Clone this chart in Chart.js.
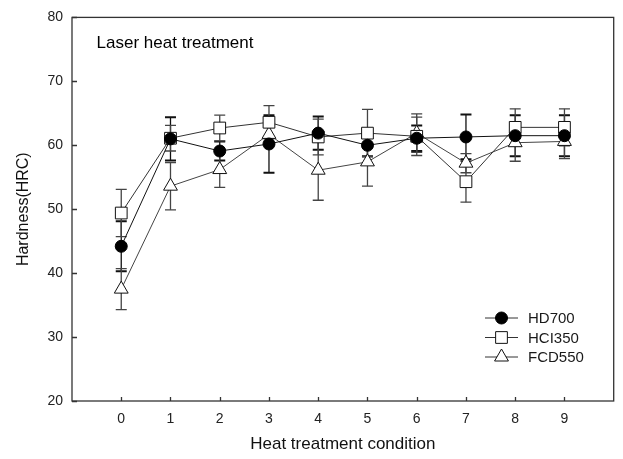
<!DOCTYPE html>
<html>
<head>
<meta charset="utf-8">
<script src="https://cdn.jsdelivr.net/npm/chart.js@4/dist/chart.umd.min.js"></script>
<style>
html,body{margin:0;padding:0;background:#fff;}
#wrap{width:623px;height:459px;position:relative;}
</style>
</head>
<body>
<div id="wrap"><canvas id="c" width="623" height="459"></canvas></div>
<script>
// ---- data ----
const conditions = [0, 1, 2, 3, 4, 5, 6, 7, 8, 9];
const yTicks = [20, 30, 40, 50, 60, 70, 80];
const seriesNames = ['HD700', 'HCI350', 'FCD550'];
const hd700 = [44.2, 61.0, 59.1, 60.2, 61.9, 60.0, 61.1, 61.3, 61.5, 61.5];
const hd700Err = [3.9, 3.4, 1.5, 4.5, 2.6, 1.7, 2.0, 3.5, 3.2, 3.2];
const hci350 = [49.4, 61.1, 62.7, 63.6, 61.3, 61.9, 61.4, 54.3, 62.8, 62.8];
const hci350Err = [3.7, 2.0, 2.0, 2.6, 2.8, 3.7, 3.0, 3.2, 2.9, 2.9];
const fcd550 = [37.5, 53.6, 56.2, 61.7, 56.1, 57.4, 61.9, 57.2, 60.4, 60.6];
const fcd550Err = [3.2, 3.7, 2.8, 1.5, 4.7, 3.8, 3.0, 1.5, 2.9, 2.7];

const FONT = "'Liberation Sans', Arial, sans-serif";
const toPts = (ys) => conditions.map((x, i) => ({x: x, y: ys[i]}));

const errs = [hd700Err, hci350Err, fcd550Err];

const errorBarPlugin = {
  id: 'errorBars',
  beforeDatasetsDraw(chart) {
    const {ctx, scales: {x, y}} = chart;
    ctx.save();
    chart.data.datasets.forEach((ds, di) => {
      const e = errs[di];
      ctx.strokeStyle = di === 0 ? '#111' : '#444';
      ds.data.forEach((p, i) => {
        const px = x.getPixelForValue(p.x);
        const top = y.getPixelForValue(p.y + e[i]);
        const bot = y.getPixelForValue(p.y - e[i]);
        ctx.lineWidth = 1.3;
        ctx.beginPath();
        ctx.moveTo(px, top); ctx.lineTo(px, bot);
        ctx.stroke();
        ctx.lineWidth = di === 0 ? 2 : 1.3;
        ctx.beginPath();
        ctx.moveTo(px - 5.5, top); ctx.lineTo(px + 5.5, top);
        ctx.moveTo(px - 5.5, bot); ctx.lineTo(px + 5.5, bot);
        ctx.stroke();
      });
    });
    ctx.restore();
  }
};

const framePlugin = {
  id: 'frame',
  afterDraw(chart) {
    const {ctx, chartArea: a, scales: {x, y}} = chart;
    ctx.save();
    ctx.strokeStyle = '#333';
    ctx.lineWidth = 1.3;
    ctx.strokeRect(a.left, a.top, a.right - a.left, a.bottom - a.top);
    ctx.beginPath();
    conditions.forEach(v => {
      const px = Math.round(x.getPixelForValue(v)) + 0.5;
      ctx.moveTo(px, a.bottom); ctx.lineTo(px, a.bottom - 4);
    });
    yTicks.forEach(v => {
      const py = Math.round(y.getPixelForValue(v)) + 0.5;
      ctx.moveTo(a.left, py); ctx.lineTo(a.left + 5, py);
    });
    ctx.stroke();
    // annotation text
    ctx.fillStyle = '#000';
    ctx.font = '17px ' + FONT;
    ctx.textAlign = 'left';
    ctx.textBaseline = 'middle';
    ctx.fillText('Laser heat treatment', x.getPixelForValue(-0.5), y.getPixelForValue(76));
    // legend
    const rows = [318, 337.5, 357];
    chart.data.datasets.forEach((ds, di) => {
      const ry = rows[di];
      ctx.strokeStyle = '#333';
      ctx.lineWidth = 1;
      ctx.beginPath();
      ctx.moveTo(485, ry); ctx.lineTo(518, ry);
      ctx.stroke();
      ctx.fillStyle = ds.pointBackgroundColor;
      ctx.strokeStyle = ds.pointBorderColor;
      ctx.lineWidth = 1;
      Chart.helpers.drawPoint(ctx, {pointStyle: ds.pointStyle, radius: ds.pointRadius, borderWidth: 1}, 501.5, ry);
      ctx.fillStyle = '#1a1a1a';
      ctx.font = '15px ' + FONT;
      ctx.textAlign = 'left';
      ctx.textBaseline = 'middle';
      ctx.fillText(ds.label, 528, ry + 1);
    });
    ctx.restore();
  }
};

new Chart(document.getElementById('c'), {
  type: 'line',
  data: {
    datasets: [
      {label: seriesNames[0], data: toPts(hd700), borderColor: '#111', borderWidth: 1,
       pointStyle: 'circle', pointRadius: 6, pointBackgroundColor: '#000', pointBorderColor: '#000', pointBorderWidth: 1},
      {label: seriesNames[1], data: toPts(hci350), borderColor: '#333', borderWidth: 1,
       pointStyle: 'rect', pointRadius: 8.3, pointBackgroundColor: '#fff', pointBorderColor: '#111', pointBorderWidth: 1},
      {label: seriesNames[2], data: toPts(fcd550), borderColor: '#444', borderWidth: 1,
       pointStyle: 'triangle', pointRadius: 8, pointBackgroundColor: '#fff', pointBorderColor: '#111', pointBorderWidth: 1}
    ]
  },
  options: {
    responsive: false,
    animation: false,
    layout: {padding: {left: 0, right: 3, top: 16, bottom: 0}},
    plugins: {legend: {display: false}, tooltip: {enabled: false}},
    elements: {line: {tension: 0}},
    scales: {
      x: {
        type: 'linear', min: -1, max: 10,
        afterBuildTicks: s => { s.ticks = conditions.map(v => ({value: v})); },
        afterFit: s => { s.height = 58; },
        grid: {display: false, drawTicks: false},
        border: {display: false},
        ticks: {padding: 10, color: '#222', font: {family: FONT, size: 14}, maxRotation: 0, autoSkip: false},
        title: {display: true, text: 'Heat treatment condition', color: '#111', font: {family: FONT, size: 17}, padding: {top: 0, bottom: 4}}
      },
      y: {
        min: 20, max: 80,
        afterBuildTicks: s => { s.ticks = yTicks.map(v => ({value: v})); },
        afterFit: s => { s.width = 72; },
        grid: {display: false, drawTicks: false},
        border: {display: false},
        ticks: {padding: 9, color: '#222', font: {family: FONT, size: 14}},
        title: {display: true, text: 'Hardness(HRC)', color: '#111', font: {family: FONT, size: 16}, padding: {top: 14, bottom: 0}}
      }
    }
  },
  plugins: [errorBarPlugin, framePlugin]
});
</script>
</body>
</html>
